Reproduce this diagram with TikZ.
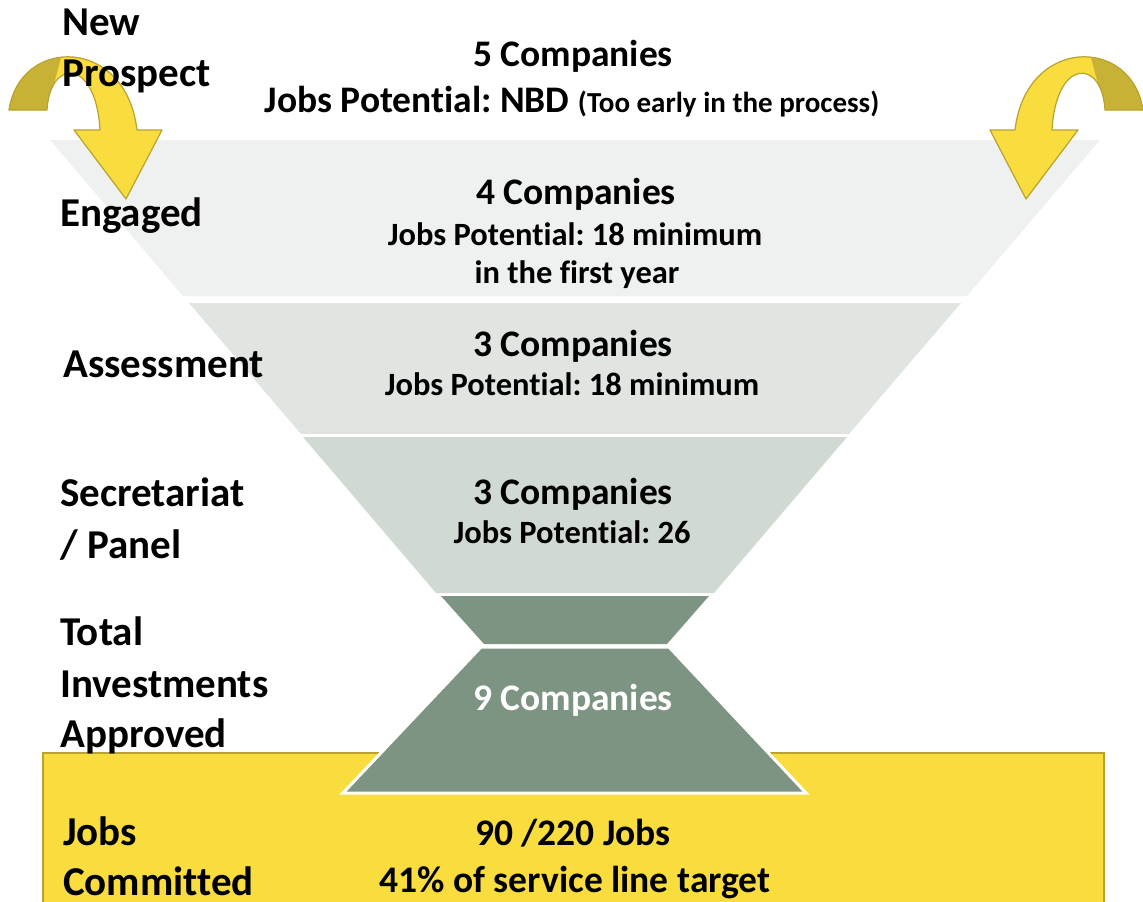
\documentclass[tikz,border=0pt]{standalone}
\usepackage{fontspec}
\setmainfont{Carlito}[Ligatures=NoCommon]
\frenchspacing

\definecolor{bandA}{HTML}{EFF1F0}
\definecolor{bandB}{HTML}{E0E5E1}
\definecolor{bandC}{HTML}{D0D9D2}
\definecolor{bandD}{HTML}{7E9483}
\definecolor{gold}{HTML}{F9DC3E}
\definecolor{golddark}{HTML}{C8B236}
\definecolor{goldline}{HTML}{B9A22E}

\tikzset{
  lbl/.style={font=\fontsize{41}{49}\selectfont\bfseries, inner sep=0pt, anchor=base west},
  big/.style={font=\fontsize{37.5}{45}\selectfont\bfseries, inner sep=0pt, anchor=base},
  mid/.style={font=\fontsize{32.5}{39}\selectfont\bfseries, inner sep=0pt, anchor=base},
  turn/.style={fill=gold, draw=goldline, line width=1.2pt, line join=round}
}

\begin{document}
\begin{tikzpicture}[x=1pt, y=-1pt]
    \useasboundingbox (0,0) rectangle (1143,902);

    % funnel
    \fill[bandA] (50,140) -- (1100,140) -- (967,296) -- (183,296) -- cycle;
    \fill[bandB] (189,303) -- (961,303) -- (849,434) -- (301,434) -- cycle;
    \fill[bandC] (303,437) -- (847,437) -- (714,593) -- (436,593) -- cycle;
    \fill[bandD] (441,596) -- (709,596) -- (667,644) -- (484,644) -- cycle;

    % jobs committed box
    \draw[fill=gold, draw=goldline, line width=2.5pt] (43,753) rectangle (1104,915);
    \draw[fill=bandD, draw=white, line width=3pt, line join=miter]
        (481,647) -- (669,647) -- (806,793) -- (343,793) -- cycle;

    % curved arrows
    \path[turn, path picture={\fill[golddark] (0,20) -- (71,20) -- (47,110) -- (0,115) -- cycle;}]
        (9,110) .. controls (20,36) and (126,36) .. (137,130) -- (162,130) -- (126,199)
        -- (74,130) -- (100,130) .. controls (96,58) and (50,58) .. (47,110) -- cycle;
    \path[turn, path picture={\fill[golddark] (1152,20) -- (1081,20) -- (1105,110) -- (1152,115) -- cycle;}]
        (1143,110) .. controls (1132,36) and (1026,36) .. (1015,130) -- (990,130) -- (1026,199)
        -- (1078,130) -- (1052,130) .. controls (1056,58) and (1102,58) .. (1105,110) -- cycle;

    % stage labels
    \node[lbl] (new) at (62,35) {New};
    \node[lbl] (prospect) at (62,86) {Prospect};
    \node[lbl] (engaged) at (60,226) {Engaged};
    \node[lbl] (assess) at (63,377) {Assessment};
    \node[lbl] (secr) at (60,506) {Secretariat};
    \node[lbl] (panel) at (60,558) {/ Panel};
    \node[lbl] (total) at (60,645) {Total};
    \node[lbl] (invest) at (60,697) {Investments};
    \node[lbl] (approved) at (60,747) {Approved};
    \node[lbl] (jobs) at (63,845) {Jobs};
    \node[lbl] (committed) at (63,895) {Committed};

    % stage figures
    \node[big] (cA) at (573,66) {5 Companies};
    \node[big] (jA) at (572,112) {Jobs Potential: NBD {\fontsize{29}{35}\selectfont(Too early in the process)}};
    \node[big] (cB) at (576,204) {4 Companies};
    \node[mid] (jB) at (575,245) {Jobs Potential: 18 minimum};
    \node[mid] (yB) at (577,283) {in the first year};
    \node[big] (cC) at (573,356) {3 Companies};
    \node[mid] (jC) at (572,395) {Jobs Potential: 18 minimum};
    \node[big] (cD) at (573,504) {3 Companies};
    \node[mid] (jD) at (572,543) {Jobs Potential: 26};
    \node[big, text=white] (cE) at (573,710) {9 Companies};
    \node[big] (jE) at (573,845) {90 /220 Jobs};
    \node[big] (tE) at (575,892) {41\% of service line target};
\end{tikzpicture}
\end{document}
